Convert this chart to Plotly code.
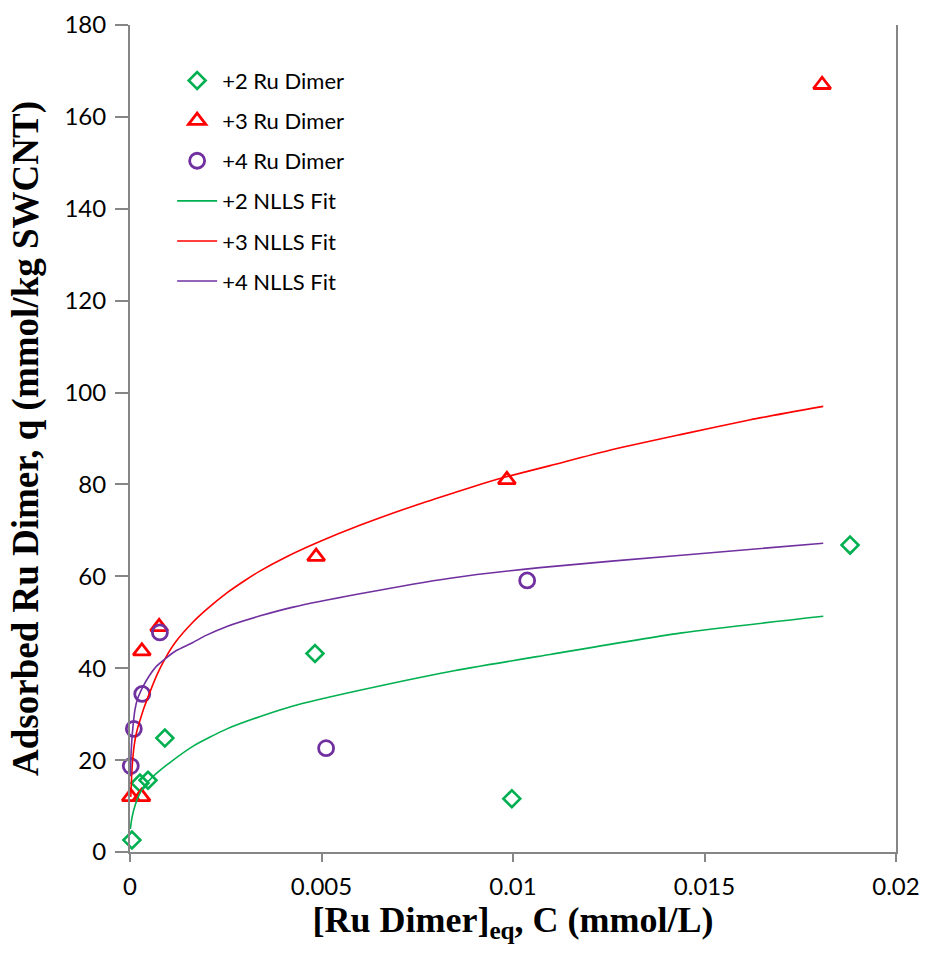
import plotly.graph_objects as go

# Data points
x2 = [0.00005, 0.00026, 0.00047, 0.00091, 0.00483, 0.00997, 0.0188]
y2 = [2.6, 15.0, 15.6, 24.8, 43.2, 11.6, 66.8]

x3 = [0.00002, 0.00030, 0.00031, 0.00076, 0.00486, 0.00984, 0.01807]
y3 = [12.0, 12.0, 43.7, 49.0, 64.3, 81.0, 167.0]

x4 = [0.00002, 0.00010, 0.00032, 0.00078, 0.00512, 0.01037]
y4 = [18.7, 26.8, 34.4, 47.8, 22.6, 59.1]

# Fit curves
fx2 = [0.00001, 0.00003, 0.00005, 0.0001, 0.00018, 0.00034, 0.0006, 0.00097, 0.00164,
       0.00253, 0.0034, 0.00426, 0.006, 0.00836, 0.01097, 0.0144, 0.0181]
fy2 = [5.0, 6.4, 7.4, 9.2, 11.3, 14.0, 16.4, 19.0, 23.0, 26.8, 29.5, 31.8, 35.2, 39.3,
       43.0, 47.7, 51.3]

fx3 = [0.00002, 0.00004, 0.00006, 0.00008, 0.00011, 0.00015, 0.0002, 0.00026, 0.00035,
       0.00052, 0.0007, 0.00091, 0.0012, 0.00164, 0.002, 0.00253, 0.003, 0.0034, 0.004,
       0.00488, 0.006, 0.0075, 0.0085, 0.00922, 0.0098, 0.01097, 0.0125, 0.0144, 0.0162,
       0.0181]
fy3 = [12.0, 16.0, 19.0, 21.0, 23.2, 25.2, 27.0, 28.6, 31.0, 34.8, 38.5, 42.0, 45.8,
       50.0, 52.8, 56.4, 59.1, 61.2, 63.9, 67.3, 71.1, 75.6, 78.3, 80.2, 81.6, 84.1,
       87.4, 90.9, 94.1, 97.0]

fx4 = [0.00001, 0.00003, 0.00005, 0.00008, 0.00013, 0.0002, 0.00034, 0.0005, 0.0007,
       0.00091, 0.0012, 0.00164, 0.002, 0.00253, 0.0034, 0.00426, 0.006, 0.00836, 0.0107,
       0.0144, 0.0181]
fy4 = [16.5, 21.8, 24.6, 27.5, 31.0, 33.4, 36.0, 38.3, 40.5, 42.0, 43.8, 45.6, 47.2,
       49.1, 51.4, 53.3, 56.2, 59.6, 61.9, 64.6, 67.2]

xticks = [0, 0.005, 0.01, 0.015, 0.02]
xticklabels = ["0", "0.005", "0.01", "0.015", "0.02"]
yticks = [0, 20, 40, 60, 80, 100, 120, 140, 160, 180]

GREEN = "#00B050"
RED = "#FF0000"
PURPLE = "#7030A0"
AX = "#868686"
SANS = "Lato, Open Sans, sans-serif"
SERIF = "Liberation Serif, DejaVu Serif, serif"

fig = go.Figure()

fig.add_trace(go.Scatter(x=x2, y=y2, mode="markers", name="+2 Ru Dimer", legendgroup="a",
                         marker=dict(symbol="diamond-open", size=13, color=GREEN,
                                     line=dict(width=2.6, color=GREEN)), cliponaxis=False))
fig.add_trace(go.Scatter(x=x3, y=y3, mode="markers", name="+3 Ru Dimer", legendgroup="b",
                         marker=dict(symbol="triangle-up-open", size=15, color=RED,
                                     line=dict(width=2.8, color=RED)), cliponaxis=False))
fig.add_trace(go.Scatter(x=x4, y=y4, mode="markers", name="+4 Ru Dimer", legendgroup="c",
                         marker=dict(symbol="circle-open", size=15, color=PURPLE,
                                     line=dict(width=2.8, color=PURPLE)), cliponaxis=False))
fig.add_trace(go.Scatter(x=fx2, y=fy2, mode="lines", name="+2 NLLS Fit", legendgroup="d",
                         line=dict(color=GREEN, width=1.6, shape="spline", smoothing=0.6)))
fig.add_trace(go.Scatter(x=fx3, y=fy3, mode="lines", name="+3 NLLS Fit", legendgroup="e",
                         line=dict(color=RED, width=1.6, shape="spline", smoothing=0.6)))
fig.add_trace(go.Scatter(x=fx4, y=fy4, mode="lines", name="+4 NLLS Fit", legendgroup="f",
                         line=dict(color=PURPLE, width=1.6, shape="spline", smoothing=0.6)))

fig.update_layout(
    width=927, height=959,
    margin=dict(l=130, r=31, t=25, b=107),
    paper_bgcolor="white", plot_bgcolor="white",
    font=dict(family=SANS, color="#000000"),
    showlegend=True,
    legend=dict(x=0.055, y=0.958, xanchor="left", yanchor="top",
                bgcolor="rgba(0,0,0,0)", font=dict(size=22, family=SANS),
                tracegroupgap=8.5, itemwidth=40),
    xaxis=dict(range=[0, 0.02], tickvals=xticks, ticktext=xticklabels, automargin=False,
               showgrid=False, zeroline=False, showline=True, linecolor=AX, linewidth=2,
               ticks="outside", ticklen=8, tickcolor=AX, tickwidth=2,
               tickfont=dict(size=24, family=SANS), ticklabelstandoff=4,
               title=dict(text="[Ru Dimer]<sub>eq</sub>, C (mmol/L)",
                          font=dict(size=36, family=SERIF, weight="bold"), standoff=6)),
    yaxis=dict(range=[0, 180], tickvals=yticks, automargin=False,
               showgrid=False, zeroline=False, showline=True, linecolor=AX, linewidth=2,
               mirror=True,
               ticks="outside", ticklen=13, tickcolor=AX, tickwidth=2,
               tickfont=dict(size=24, family=SANS), ticklabelstandoff=4,
               title=dict(text="Adsorbed Ru Dimer, q (mmol/kg SWCNT)",
                          font=dict(size=37, family=SERIF, weight="bold"), standoff=14)),
    xaxis2=dict(range=[0, 0.02], tickvals=xticks, overlaying="x", showticklabels=False,
                showgrid=False, zeroline=False, showline=False, automargin=False,
                ticks="inside", ticklen=7, tickcolor=AX, tickwidth=2, side="bottom"),
    yaxis2=dict(range=[0, 180], tickvals=yticks, overlaying="y", showticklabels=False,
                showgrid=False, zeroline=False, showline=False, automargin=False,
                ticks="inside", ticklen=8, tickcolor=AX, tickwidth=2, side="left"),
)

fig.write_html("out.html")
